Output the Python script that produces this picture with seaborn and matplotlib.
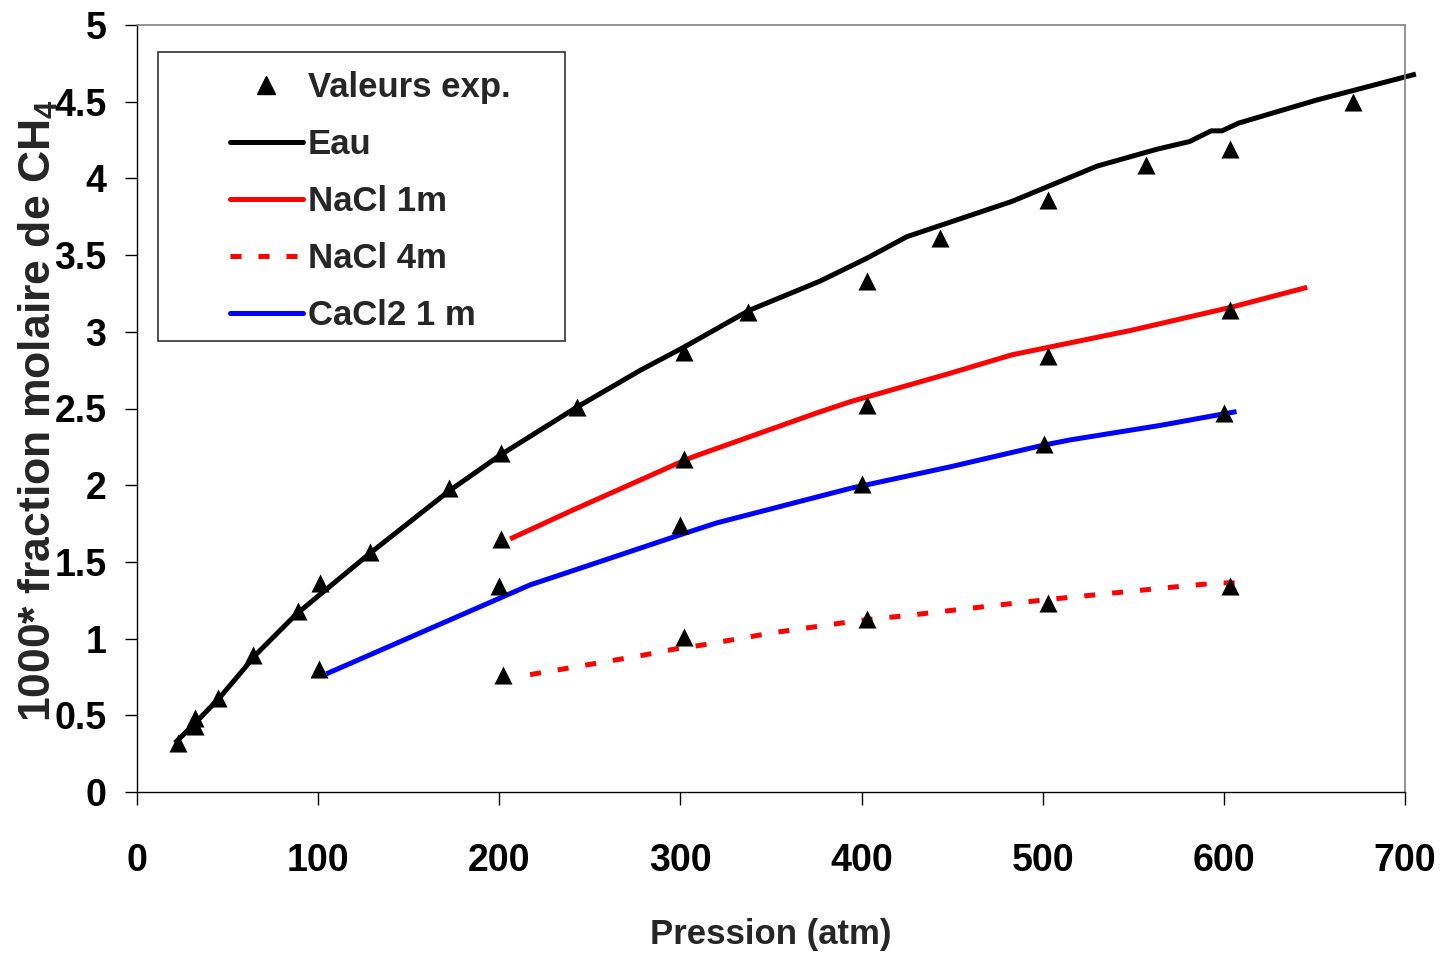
import matplotlib
matplotlib.use("Agg")
import matplotlib.pyplot as plt
from matplotlib.lines import Line2D
from matplotlib.patches import Rectangle
import seaborn as sns
import pandas as pd

# ---------------- data ----------------
eau_p = [21, 33, 46, 66, 88, 129, 172, 201, 243, 278, 302, 338, 377, 403, 425,
         483, 530, 563, 581, 593, 599, 608, 651, 706]
eau_x = [0.32, 0.46, 0.62, 0.90, 1.16, 1.56, 1.96, 2.20, 2.51, 2.75, 2.90, 3.14,
         3.33, 3.48, 3.62, 3.85, 4.08, 4.19, 4.24, 4.31, 4.31, 4.36, 4.51, 4.68]

nacl1_p = [206, 241, 298, 307, 375, 394, 449, 483, 549, 604, 646]
nacl1_x = [1.65, 1.84, 2.14, 2.185, 2.47, 2.545, 2.73, 2.85, 3.01, 3.16, 3.29]

nacl4_p = [217, 251, 280, 296, 312, 351, 398, 428, 443, 499, 565, 597, 606]
nacl4_x = [0.765, 0.834, 0.893, 0.93, 0.958, 1.038, 1.117, 1.154, 1.175, 1.25,
           1.328, 1.363, 1.363]

cacl2_p = [104.5, 217, 245, 302, 320, 394, 449, 500, 515, 565, 607]
cacl2_x = [0.77, 1.35, 1.46, 1.685, 1.754, 1.98, 2.12, 2.26, 2.295, 2.39, 2.48]

exp_p = [22.5, 32, 32, 44.5, 64, 89, 101, 128.5, 172, 201, 243, 302, 337.5, 403,
         443.5, 503, 557, 603.5, 671.5,
         201, 302, 403, 503, 603.5,
         100.5, 200, 300, 400.5, 500.5, 600,
         202, 302, 403, 503, 603.5]
exp_x = [0.32, 0.48, 0.43, 0.61, 0.89, 1.18, 1.36, 1.565, 1.98, 2.21, 2.51, 2.87,
         3.13, 3.33, 3.61, 3.86, 4.09, 4.19, 4.50,
         1.65, 2.17, 2.52, 2.84, 3.145,
         0.80, 1.34, 1.74, 2.01, 2.27, 2.47,
         0.765, 1.01, 1.13, 1.23, 1.345]

series_names = ["Eau", "NaCl 1m", "NaCl 4m", "CaCl2 1 m"]
series_colors = ["#000000", "#FF0000", "#FF0000", "#0000FF"]
x_ticks = [0, 100, 200, 300, 400, 500, 600, 700]
y_ticks = [0, 0.5, 1, 1.5, 2, 2.5, 3, 3.5, 4, 4.5, 5]
y_tick_labels = ["0", "0.5", "1", "1.5", "2", "2.5", "3", "3.5", "4", "4.5", "5"]

# ---------------- style ----------------
sns.set_style("white")
NARROW = ["Liberation Sans Narrow", "Liberation Sans", "DejaVu Sans"]
plt.rcParams["font.family"] = NARROW
plt.rcParams["font.weight"] = "bold"
plt.rcParams["mathtext.fontset"] = "custom"
plt.rcParams["mathtext.rm"] = "Liberation Sans:bold"
plt.rcParams["mathtext.default"] = "rm"

frames = []
for name, p, x in [("Eau", eau_p, eau_x), ("NaCl 1m", nacl1_p, nacl1_x),
                   ("NaCl 4m", nacl4_p, nacl4_x), ("CaCl2 1 m", cacl2_p, cacl2_x)]:
    frames.append(pd.DataFrame({"p": p, "x": x, "serie": name}))
curves = pd.concat(frames, ignore_index=True)
expdf = pd.DataFrame({"p": exp_p, "x": exp_x})

fig = plt.figure(figsize=(14.42, 9.56), dpi=100)
ax = fig.add_axes([137 / 1442, 1 - 792 / 956, (1405 - 137) / 1442, (792 - 25) / 956])

LW = 3.6
dash4 = (2.2, 3.4)
sns.lineplot(data=curves, x="p", y="x", hue="serie", style="serie",
             hue_order=series_names, style_order=series_names,
             palette=dict(zip(series_names, series_colors)),
             dashes={"Eau": "", "NaCl 1m": "", "NaCl 4m": dash4, "CaCl2 1 m": ""},
             sort=False, estimator=None, linewidth=LW, legend=False, ax=ax,
             zorder=2)
for ln in ax.get_lines():
    ln.set_clip_on(False)
    ln.set_solid_capstyle("butt")
    ln.set_dash_capstyle("butt")

sns.scatterplot(data=expdf, x="p", y="x", marker="^", s=13.0 ** 2, color="black",
                edgecolor="black", linewidth=0, ax=ax, zorder=3, legend=False)

ax.set_xlim(0, 700)
ax.set_ylim(0, 5)
ax.set_xticks(x_ticks)
ax.set_xticklabels([str(t) for t in x_ticks])
ax.set_yticks(y_ticks)
ax.set_yticklabels(y_tick_labels)
ax.tick_params(axis="both", which="major", direction="out", length=9, width=1.0,
               color="black", labelsize=27, labelcolor="black")
ax.tick_params(axis="x", pad=28, bottom=True)
ax.tick_params(axis="y", pad=13, left=True)
for lab in ax.get_xticklabels() + ax.get_yticklabels():
    lab.set_fontweight("bold")
    lab.set_family(NARROW)

for side in ["left", "bottom"]:
    ax.spines[side].set_color("black")
    ax.spines[side].set_linewidth(1.0)
for side in ["top", "right"]:
    ax.spines[side].set_color("#808080")
    ax.spines[side].set_linewidth(1.2)

ax.set_xlabel("Pression (atm)", fontsize=25, fontweight="bold", family=NARROW)
ax.xaxis.set_label_coords(0.5, -0.164)
ax.set_ylabel("1000* fraction molaire de CH$_4$", fontsize=32, fontweight="bold",
              family=["Liberation Sans", "DejaVu Sans"])
ax.yaxis.set_label_coords(-0.061, 0.497)

# legend frame (drawn as in the original: wide box, entries shifted left)
def ax_x(px):
    return (px - 137) / 1268

def ax_y(py):
    return (792 - py) / 767

rect = Rectangle((ax_x(158), ax_y(341)), ax_x(565) - ax_x(158), ax_y(52) - ax_y(341),
                 transform=ax.transAxes, facecolor="white", edgecolor="#333333",
                 linewidth=1.2, zorder=4)
ax.add_patch(rect)

handles = [
    Line2D([], [], linestyle="none", marker="^", markersize=13, color="black"),
    Line2D([], [], color="black", linewidth=LW),
    Line2D([], [], color="red", linewidth=LW),
    Line2D([], [], color="red", linewidth=LW, dashes=dash4),
    Line2D([], [], color="blue", linewidth=LW),
]
labels = ["Valeurs exp."] + series_names
leg = ax.legend(handles, labels, loc="upper left",
                bbox_to_anchor=(ax_x(230), ax_y(71)), frameon=False,
                borderpad=0, borderaxespad=0, handlelength=2.1,
                handletextpad=0.15, labelspacing=0.69,
                prop={"family": NARROW, "weight": "bold", "size": 25})
leg.set_zorder(5)

fig.savefig("out.png", dpi=100)
